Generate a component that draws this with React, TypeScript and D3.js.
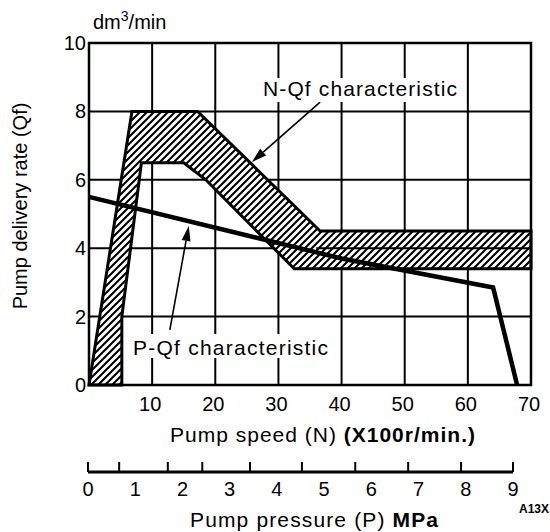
import React from "react";
import * as d3 from "d3";

// ---- data ----
const speedTicks = [10, 20, 30, 40, 50, 60, 70];
const rateTicks = [0, 2, 4, 6, 8, 10];
const pressureLabels = [0, 1, 2, 3, 4, 5, 6, 7, 8, 9];
const pressureTickMarks = [0, 0.66, 1.69, 2.42, 3.43, 4.53, 5.66, 6.78, 7.9, 9];

// N-Qf band: outer (upper) boundary then inner (lower) boundary back
const nqfUpperN = [0, 6.8, 17.2, 36.6, 70];
const nqfUpperQ = [0, 8, 8, 4.5, 4.5];
const nqfLowerN = [70, 32.5, 18.5, 15, 8.3, 5.2, 5.2];
const nqfLowerQ = [3.4, 3.4, 6.0, 6.5, 6.5, 2, 0];

// P-Qf characteristic line (x expressed in speed-axis units)
const pqfN = [0, 40, 64, 67.8];
const pqfQ = [5.5, 3.7, 2.85, 0];

// annotation arrows [fromN, fromQ, toN, toQ]
const arrowNqf = [36.6, 8.27, 25.8, 6.52];
const arrowPqf = [12.8, 1.61, 15.8, 4.65];

const FONT = "'Liberation Sans', Arial, Helvetica, sans-serif";

export default function App() {
  const W = 550, H = 532;
  const x = d3.scaleLinear().domain([0, 70]).range([89, 531]);
  const y = d3.scaleLinear().domain([0, 10]).range([385, 43]);
  const p = d3.scaleLinear().domain([0, 9]).range([88, 513]);

  const bandPts: [number, number][] = [
    ...nqfUpperN.map((n, i) => [x(n), y(nqfUpperQ[i])] as [number, number]),
    ...nqfLowerN.map((n, i) => [x(n), y(nqfLowerQ[i])] as [number, number]),
  ];
  const bandPath = d3.line()(bandPts) + "Z";
  const pqfPath = d3.line()(pqfN.map((n, i) => [x(n), y(pqfQ[i])] as [number, number]));

  const arrow = (a: number[], key: string) => {
    const x1 = x(a[0]), y1 = y(a[1]), x2 = x(a[2]), y2 = y(a[3]);
    const ang = Math.atan2(y2 - y1, x2 - x1);
    const L = 15, Wd = 4.5;
    const bx = x2 - L * Math.cos(ang), by = y2 - L * Math.sin(ang);
    const px = -Math.sin(ang) * Wd, py = Math.cos(ang) * Wd;
    return (
      <g key={key}>
        <line x1={x1} y1={y1} x2={bx} y2={by} stroke="#000" strokeWidth={1.6} />
        <path d={`M${x2},${y2}L${bx + px},${by + py}L${bx - px},${by - py}Z`} fill="#000" />
      </g>
    );
  };

  return (
    <svg width={W} height={H} style={{ position: "absolute", left: 0, top: 0, background: "#fff" }} fontFamily={FONT}>
      <defs>
        <pattern id="hatch" patternUnits="userSpaceOnUse" width={7} height={7}>
          <rect width={7} height={7} fill="#fff" />
          <path d="M-1,8 L8,-1 M-4.5,4.5 L4.5,-4.5 M2.5,11.5 L11.5,2.5" stroke="#000" strokeWidth={2.1} />
        </pattern>
      </defs>

      {/* grid */}
      {speedTicks.slice(0, -1).map((t) => (
        <line key={"vx" + t} x1={x(t)} x2={x(t)} y1={y(0)} y2={y(10)} stroke="#000" strokeWidth={2} />
      ))}
      {rateTicks.slice(1, -1).map((t) => (
        <line key={"hy" + t} x1={x(0)} x2={x(70)} y1={y(t)} y2={y(t)} stroke="#000" strokeWidth={2} />
      ))}

      {/* N-Qf band */}
      <path d={bandPath} fill="url(#hatch)" stroke="#000" strokeWidth={3} strokeLinejoin="miter" />
      {/* gridline through band */}
      <line x1={x(36)} x2={x(70)} y1={y(4)} y2={y(4)} stroke="#000" strokeWidth={2} />

      {/* P-Qf line */}
      <path d={pqfPath || ""} fill="none" stroke="#000" strokeWidth={4.5} strokeLinejoin="miter" />

      {/* frame */}
      <rect x={x(0)} y={y(10)} width={x(70) - x(0)} height={y(0) - y(10)} fill="none" stroke="#000" strokeWidth={2.5} />

      {/* arrows */}
      {arrow(arrowNqf, "a1")}
      {arrow(arrowPqf, "a2")}

      {/* annotations */}
      <rect x={262} y={78} width={196} height={24} fill="#fff" />
      <text x={263} y={96} fontSize={21} textLength={194}>N-Qf characteristic</text>
      <rect x={131} y={334} width={199} height={24} fill="#fff" />
      <text x={133} y={355} fontSize={21} textLength={195}>P-Qf characteristic</text>

      {/* y ticks */}
      {rateTicks.map((t) => (
        <text key={"yl" + t} x={86} y={y(t) + 7} fontSize={20} textAnchor="end">{t}</text>
      ))}
      <text x={93} y={29} fontSize={20}>dm<tspan dy={-8} fontSize={14}>3</tspan><tspan dy={8}>/min</tspan></text>
      <text transform={`translate(27,206) rotate(-90)`} fontSize={20} textAnchor="middle">Pump delivery rate (Qf)</text>

      {/* x ticks */}
      {speedTicks.map((t) => (
        <text key={"xl" + t} x={x(t) - 2} y={411} fontSize={20} textAnchor="middle">{t}</text>
      ))}
      <text x={170} y={442} fontSize={21} textLength={305} lengthAdjust="spacing">
        Pump  speed  (N)  <tspan fontWeight="bold">(X100r/min.)</tspan>
      </text>

      {/* pressure axis */}
      <line x1={p(0)} x2={p(9)} y1={472} y2={472} stroke="#000" strokeWidth={3} />
      {pressureTickMarks.map((t, i) => (
        <line key={"pt" + i} x1={p(t)} x2={p(t)} y1={472} y2={462} stroke="#000" strokeWidth={2} />
      ))}
      {pressureLabels.map((t) => (
        <text key={"pl" + t} x={p(t)} y={496} fontSize={20} textAnchor="middle">{t}</text>
      ))}
      <text x={190} y={527} fontSize={21} textLength={248} lengthAdjust="spacing">
        Pump  pressure  (P)  <tspan fontWeight="bold">MPa</tspan>
      </text>
      <text x={519} y={513} fontSize={12} fontWeight="bold">A13X</text>
    </svg>
  );
}
